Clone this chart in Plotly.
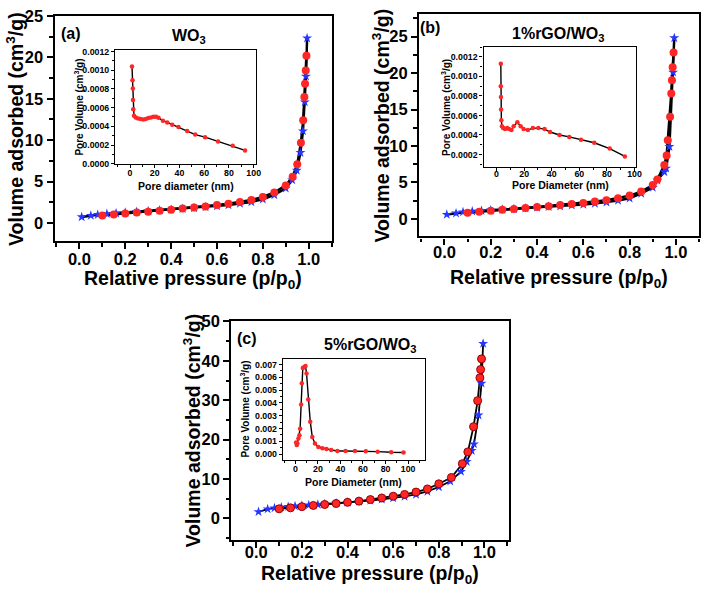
import plotly.graph_objects as go

# ---- main isotherms: relative pressure vs volume adsorbed ----
# (a) WO3
a_ads_p = [0.01, 0.05, 0.08, 0.12, 0.16, 0.2, 0.25, 0.3, 0.35, 0.4, 0.45, 0.5, 0.55, 0.6, 0.65, 0.7, 0.75,
           0.8, 0.85, 0.9, 0.928, 0.948, 0.964, 0.975, 0.983, 0.988, 0.993]
a_ads_v = [0.75, 0.92, 1.02, 1.12, 1.2, 1.28, 1.37, 1.46, 1.55, 1.64, 1.74, 1.84, 1.95, 2.07, 2.2, 2.36, 2.56,
           2.88, 3.4, 4.2, 5.2, 6.35, 8.5, 11.1, 14.6, 17.7, 22.3]
a_des_p = [0.1, 0.15, 0.2, 0.25, 0.3, 0.35, 0.4, 0.45, 0.5, 0.55, 0.6, 0.65, 0.7, 0.75, 0.8, 0.85, 0.9, 0.93,
           0.95, 0.966, 0.976, 0.981, 0.984, 0.987, 0.99]
a_des_v = [0.93, 1.05, 1.15, 1.27, 1.38, 1.5, 1.62, 1.75, 1.88, 2.02, 2.18, 2.35, 2.55, 2.8, 3.15, 3.7, 4.55, 5.6,
           7.1, 9.7, 12.4, 15.2, 16.8, 18.4, 20.2]

# (b) 1%rGO/WO3
b_ads_p = [0.01, 0.05, 0.08, 0.12, 0.16, 0.2, 0.25, 0.3, 0.35, 0.4, 0.45, 0.5, 0.55, 0.6, 0.65, 0.7, 0.75,
           0.8, 0.85, 0.9, 0.92, 0.95, 0.958, 0.972, 0.988, 0.993]
b_ads_v = [0.6, 0.8, 0.95, 1.05, 1.13, 1.2, 1.3, 1.38, 1.47, 1.56, 1.66, 1.76, 1.87, 2.0, 2.13, 2.3, 2.52,
           2.85, 3.5, 4.3, 5.3, 6.45, 6.95, 9.9, 20.1, 24.8]
b_des_p = [0.1, 0.15, 0.2, 0.25, 0.3, 0.35, 0.4, 0.45, 0.5, 0.55, 0.6, 0.65, 0.7, 0.75, 0.8, 0.85, 0.9, 0.92,
           0.95, 0.96, 0.965, 0.975, 0.98, 0.983, 0.986, 0.99]
b_des_v = [0.85, 1.0, 1.12, 1.25, 1.37, 1.5, 1.63, 1.76, 1.9, 2.05, 2.2, 2.38, 2.58, 2.85, 3.2, 3.75, 4.65, 5.4,
           7.4, 8.7, 10.8, 14.0, 17.2, 19.0, 20.8, 22.8]

# (c) 5%rGO/WO3
c_ads_p = [0.01, 0.05, 0.08, 0.11, 0.14, 0.17, 0.2, 0.23, 0.27, 0.3, 0.35, 0.4, 0.45, 0.5, 0.55, 0.6, 0.65,
           0.7, 0.75, 0.8, 0.85, 0.897, 0.922, 0.944, 0.954, 0.974, 0.987, 0.994]
c_ads_v = [1.7, 2.4, 2.65, 2.85, 3.0, 3.15, 3.28, 3.4, 3.55, 3.65, 3.85, 4.05, 4.3, 4.55, 4.85, 5.2, 5.6,
           6.1, 6.85, 8.0, 9.45, 11.9, 14.4, 17.2, 18.9, 26.2, 34.3, 44.4]
c_des_p = [0.1, 0.15, 0.2, 0.25, 0.3, 0.35, 0.4, 0.45, 0.5, 0.55, 0.6, 0.65, 0.7, 0.75, 0.8, 0.855, 0.903,
           0.927, 0.952, 0.97, 0.98, 0.983, 0.987]
c_des_v = [2.45, 2.7, 3.0, 3.3, 3.55, 3.8, 4.1, 4.4, 4.8, 5.2, 5.65, 6.1, 6.7, 7.5, 8.8, 10.4, 13.9,
           16.9, 23.3, 29.9, 35.7, 37.8, 40.5]

# ---- insets: pore size distribution ----
a_pore_d = [1.6, 2.0, 2.3, 2.4, 2.6, 3.2, 4.6, 6.5, 8.6, 10.8, 12.8, 14.8, 16.9, 19.0, 21.0, 23.0, 26.6, 30.1,
            34.1, 39.2, 46.2, 52.7, 60.7, 71.2, 83.0, 93.0]
a_pore_v = [0.001039, 0.000891, 0.000804, 0.00068, 0.000582, 0.000512, 0.000495, 0.000484, 0.000477, 0.000474,
            0.000477, 0.000488, 0.000495, 0.000502, 0.000502, 0.000491, 0.00046, 0.000442, 0.000418, 0.000393,
            0.000351, 0.000312, 0.000284, 0.000239, 0.000193, 0.000143]

b_pore_d = [3.1, 3.1, 3.2, 3.3, 3.5, 3.9, 4.8, 6.2, 7.7, 9.1, 10.8, 12.4, 15.1, 17.5, 19.6, 22.7, 26.3, 30.3,
            34.8, 38.8, 45.6, 52.7, 61.2, 70.8, 82.0, 93.0]
b_pore_v = [0.00113, 0.00090, 0.00079, 0.00066, 0.00055, 0.00049, 0.00047, 0.00046, 0.00047, 0.00046, 0.00045,
            0.00049, 0.00053, 0.00049, 0.00046, 0.00045, 0.00047, 0.00047, 0.00046, 0.00043, 0.0004, 0.00038,
            0.00035, 0.00032, 0.00026, 0.00018]

c_pore_d = [0.6, 1.2, 1.8, 2.7, 3.6, 4.2, 5.1, 5.7, 6.6, 7.8, 9.0, 9.9, 11.4, 13.2, 15.0, 17.4, 20.4, 24.0,
            27.6, 31.8, 37.3, 44.5, 52.9, 62.5, 73.0, 85.0, 96.0]
c_pore_v = [0.00091, 0.00071, 0.00084, 0.00122, 0.00147, 0.00198, 0.00388, 0.00553, 0.00672, 0.0068, 0.00687,
            0.00629, 0.00426, 0.00254, 0.00134, 0.00084, 0.00056, 0.00046, 0.00041, 0.00033, 0.00025, 0.00025,
            0.00025, 0.00023, 0.0002, 0.00015, 0.00013]

FONT = "Liberation Sans, Arial, sans-serif"
RED = "#ff2626"
BLUE = "#2436ff"
W, H = 708, 593


def px(x0, x1):
    return [x0 / W, x1 / W]


def py(y0, y1):
    # pixel rows (top, bottom) -> paper domain
    return [1 - y1 / H, 1 - y0 / H]


fig = go.Figure()

panels = [
    # ads_p, ads_v, des_p, des_v, axis suffix, line width
    (a_ads_p, a_ads_v, a_des_p, a_des_v, "", 2.5),
    (b_ads_p, b_ads_v, b_des_p, b_des_v, "3", 2.5),
    (c_ads_p, c_ads_v, c_des_p, c_des_v, "5", 1.8),
]
for ap, av, dp, dv, s, lw in panels:
    xa, ya = "x" + s, "y" + s
    fig.add_trace(go.Scatter(x=ap, y=av, mode="lines", line=dict(color="black", width=lw),
                             xaxis=xa, yaxis=ya, showlegend=False))
    fig.add_trace(go.Scatter(x=dp, y=dv, mode="lines", line=dict(color="black", width=lw),
                             xaxis=xa, yaxis=ya, showlegend=False))
    fig.add_trace(go.Scatter(x=ap, y=av, mode="markers",
                             marker=dict(symbol="star", size=7.5, color=BLUE, line=dict(width=0)),
                             xaxis=xa, yaxis=ya, showlegend=False))
    red_line = dict(width=1, color="#9a0000") if s == "5" else dict(width=0)
    fig.add_trace(go.Scatter(x=dp, y=dv, mode="markers",
                             marker=dict(symbol="circle", size=8, color=RED, line=red_line),
                             xaxis=xa, yaxis=ya, showlegend=False))

insets = [(a_pore_d, a_pore_v, "2"), (b_pore_d, b_pore_v, "4"), (c_pore_d, c_pore_v, "6")]
for d, v, s in insets:
    fig.add_trace(go.Scatter(x=d, y=v, mode="lines+markers", line=dict(color="black", width=1.4),
                             marker=dict(size=4.5, color=RED, line=dict(width=0)),
                             xaxis="x" + s, yaxis="y" + s, showlegend=False))


def main_axis(domain, rng, dtick, mdtick, fmt, anchor, standoff=0):
    return dict(domain=domain, range=rng, anchor=anchor, dtick=dtick, tick0=0, tickformat=fmt,
                showline=True, linewidth=2.2, linecolor="black", mirror=True, showgrid=False,
                zeroline=False, ticks="outside", ticklen=6, tickwidth=2, tickcolor="black",
                ticklabelstandoff=standoff,
                tickfont=dict(family=FONT, size=16.5, color="black", weight="bold"),
                minor=dict(ticks="outside", ticklen=3.5, tickwidth=1.5, tickcolor="black", dtick=mdtick))


def inset_axis(domain, rng, dtick, mdtick, fmt, anchor, standoff=0):
    return dict(domain=domain, range=rng, anchor=anchor, dtick=dtick, tick0=0, tickformat=fmt,
                showline=True, linewidth=1.4, linecolor="black", mirror=True, showgrid=False,
                zeroline=False, ticks="outside", ticklen=3, tickwidth=1.2, tickcolor="black",
                ticklabelstandoff=standoff,
                tickfont=dict(family=FONT, size=8.8, color="black", weight="bold"),
                minor=dict(ticks="outside", ticklen=2, tickwidth=1, tickcolor="black", dtick=mdtick))


fig.update_layout(
    width=W, height=H, margin=dict(l=0, r=0, t=0, b=0),
    paper_bgcolor="white", plot_bgcolor="white",
    xaxis=main_axis(px(55, 334), [-0.108, 1.1], 0.2, 0.1, ".1f", "y", -4),
    yaxis=main_axis(py(7, 238), [-2.2, 25], 5, 2.5, "d", "x"),
    xaxis2=inset_axis(px(116, 258), [-12, 102], 20, 10, "d", "y2", -3),
    yaxis2=inset_axis(py(42, 159), [-0.000005, 0.001215], 0.0002, 0.0001, ".4f", "x2"),
    xaxis3=main_axis(px(422, 704), [-0.11, 1.1], 0.2, 0.1, ".1f", "y3", -6),
    yaxis3=main_axis(py(5, 233), [-2.4, 28.1], 5, 2.5, "d", "x3"),
    xaxis4=inset_axis(px(487, 641), [-9.4, 101.4], 20, 10, "d", "y4", -5),
    yaxis4=inset_axis(py(39, 162), [0.00007, 0.0013], 0.0002, 0.0001, ".4f", "x4"),
    xaxis5=main_axis(px(233, 513), [-0.109, 1.109], 0.2, 0.1, ".1f", "y5", -10),
    yaxis5=main_axis(py(320, 544), [-5.5, 50], 10, 5, "d", "x5"),
    xaxis6=inset_axis(px(285, 428), [-11, 115], 20, 10, "d", "y6", -3),
    yaxis6=inset_axis(py(358, 462), [-0.00046, 0.00746], 0.001, 0.0005, ".3f", "x6"),
)


def label(text, x, y, size, angle=0):
    fig.add_annotation(text=text, x=x / W, y=1 - y / H, xref="paper", yref="paper",
                       showarrow=False, textangle=angle, xanchor="center", yanchor="middle",
                       font=dict(family=FONT, size=size, color="black", weight="bold"))


xt = "Relative pressure (p/p<sub>0</sub>)"
yt = "Volume adsorbed (cm<sup>3</sup>/g)"
pv = "Pore Volume (cm<sup>3</sup>/g)"

# main axis titles
label(xt, 194.5, 277, 19.5)
label(yt, 15, 123, 19.5, -90)
label(xt, 563, 276, 19.5)
label(yt, 384, 119, 19.5, -90)
label(xt, 373, 579, 19.5)
label(yt, 193, 432, 19.5, -90)

# panel tags and sample names
label("(a)", 71.5, 25, 16)
label("WO<sub>3</sub>", 190, 28, 16)
label("(b)", 433, 19, 16)
label("1%rGO/WO<sub>3</sub>", 562, 26, 16)
label("(c)", 249, 337, 16)
label("5%rGO/WO<sub>3</sub>", 373, 345, 16)

# inset axis titles
label("Pore diameter (nm)", 187, 181.5, 10.5)
label(pv, 80, 100.5, 10, -90)
label("Pore Diameter (nm)", 564, 180.5, 10.5)
label(pv, 449, 100.5, 10, -90)
label("Pore Diameter (nm)", 356.5, 484, 10.5)
label(pv, 247, 410, 10, -90)

# the page body has a default 8px margin; drop it so the 708x593 figure fills the window
fix = ("document.documentElement.style.margin='0';document.documentElement.style.overflow='hidden';"
       "document.body.style.margin='0';document.body.style.padding='0';document.body.style.overflow='hidden';")
fig.write_html("out.html", post_script=fix, config={"displayModeBar": False})
